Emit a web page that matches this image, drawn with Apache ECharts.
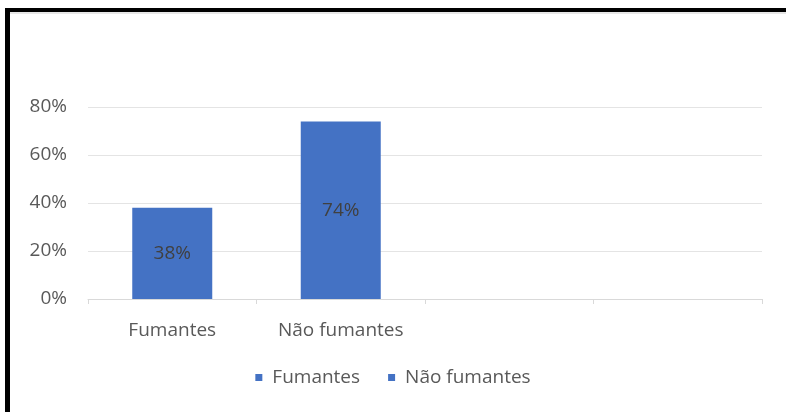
<!DOCTYPE html>
<html>
<head>
<meta charset="utf-8">
<script src="https://cdn.jsdelivr.net/npm/echarts@6/dist/echarts.min.js"></script>
<style>
  html, body { margin: 0; padding: 0; background: #ffffff; }
  #chart { position: absolute; left: 0; top: 0; width: 786px; height: 412px; }
  #frame {
    position: absolute; left: 5px; top: 8px; width: 790px; height: 420px;
    border-top: 4px solid #000; border-left: 5px solid #000;
    box-shadow: inset 0 2px 0 #e6e6e6;
    pointer-events: none;
  }
</style>
</head>
<body>
<div id="chart"></div>
<div id="frame"></div>
<script>
// Share of respondents per group (percent)
const categories = ['Fumantes', 'Não fumantes', '', ''];
const seriesNames = ['Fumantes', 'Não fumantes'];
const fumantes = [38, null, null, null];
const naoFumantes = [null, 74, null, null];
const yTicks = [0, 20, 40, 60, 80];

const font = "'Open Sans', 'Noto Sans', sans-serif";
const blue = '#4472C4';
const textSize = 19;

const chart = echarts.init(document.getElementById('chart'), null, { renderer: 'canvas' });

function barSeries(name, data) {
  return {
    name: name,
    type: 'bar',
    stack: 'grupo',
    data: data,
    barWidth: 80,
    itemStyle: { color: blue },
    label: {
      show: true,
      position: 'inside',
      formatter: p => p.value + '%',
      color: '#404040',
      fontFamily: font,
      fontSize: textSize
    }
  };
}

chart.setOption({
  animation: false,
  backgroundColor: '#ffffff',
  grid: { left: 88, right: 24, top: 107, bottom: 113, containLabel: false },
  legend: {
    data: seriesNames,
    bottom: 20,
    left: 'center',
    icon: 'rect',
    itemWidth: 7,
    itemHeight: 7,
    itemGap: 28,
    textStyle: { color: '#595959', fontFamily: font, fontSize: textSize, padding: [0, 0, 0, 5] }
  },
  xAxis: {
    type: 'category',
    data: categories,
    axisLine: { lineStyle: { color: '#d9d9d9', width: 1 } },
    axisTick: { show: true, alignWithLabel: false, length: 5, lineStyle: { color: '#d9d9d9' } },
    axisLabel: { color: '#595959', fontFamily: font, fontSize: textSize, margin: 22 }
  },
  yAxis: {
    type: 'value',
    min: yTicks[0],
    max: yTicks[yTicks.length - 1],
    interval: yTicks[1] - yTicks[0],
    axisLine: { show: false },
    axisTick: { show: false },
    axisLabel: { color: '#595959', fontFamily: font, fontSize: textSize, margin: 21, formatter: v => v + '%' },
    splitLine: { lineStyle: { color: '#e4e4e4', width: 1 } }
  },
  series: [barSeries(seriesNames[0], fumantes), barSeries(seriesNames[1], naoFumantes)]
});
</script>
</body>
</html>
